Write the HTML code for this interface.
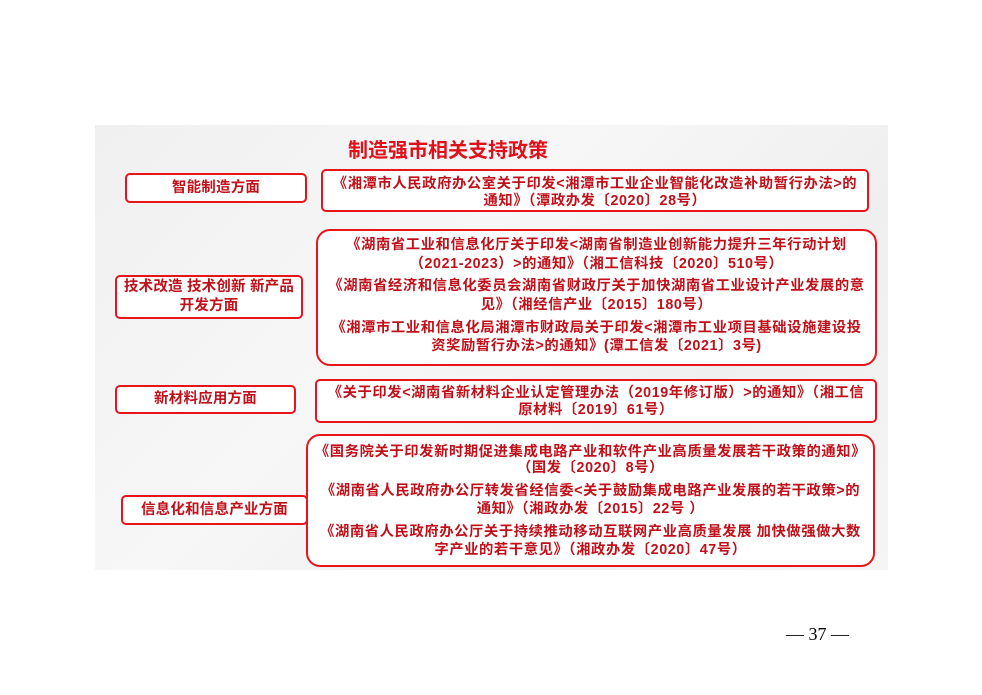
<!DOCTYPE html>
<html><head><meta charset="utf-8"><style>
body{margin:0;width:982px;height:695px;background:#fff;position:relative;overflow:hidden;font-family:"Liberation Sans","Noto Sans CJK SC",sans-serif;}
.panel{position:absolute;left:95px;top:125px;width:793px;height:445px;background:linear-gradient(135deg,#f0f0f0,#f7f7f7 40%,#efefef 70%,#f5f5f5);}
.b{position:absolute;border:2px solid #e8141c;border-radius:5px;background:#fff;box-sizing:border-box;color:#c0101a;font-weight:bold;font-size:14.3px;letter-spacing:0.6px;}
.r{border-radius:14px;}
.l{position:absolute;left:0;right:0;text-align:center;white-space:nowrap;line-height:18px;}
.lab{display:flex;align-items:center;justify-content:center;text-align:center;line-height:19px;font-size:14.5px;letter-spacing:0.2px;}
</style></head><body>
<div class="panel"></div>
<div style="position:absolute;left:300px;top:134px;width:296px;text-align:center;color:#e0101a;font-weight:bold;font-size:20px;">制造强市相关支持政策</div>

<div class="b lab" style="left:125px;top:173px;width:182px;height:30px;">智能制造方面</div>
<div class="b" style="left:321px;top:169px;width:548px;height:43px;">
<div class="l" style="top:4px">《湘潭市人民政府办公室关于印发&lt;湘潭市工业企业智能化改造补助暂行办法&gt;的</div>
<div class="l" style="top:21px">通知》（潭政办发〔2020〕28号）</div></div>

<div class="b lab" style="left:115px;top:275px;width:188px;height:44px;">技术改造 技术创新 新产品<br>开发方面</div>
<div class="b r" style="left:316px;top:229px;width:561px;height:137px;">
<div class="l" style="top:5px">《湖南省工业和信息化厅关于印发&lt;湖南省制造业创新能力提升三年行动计划</div>
<div class="l" style="top:24px">（2021-2023）&gt;的通知》（湘工信科技〔2020〕510号）</div>
<div class="l" style="top:46px">《湖南省经济和信息化委员会湖南省财政厅关于加快湖南省工业设计产业发展的意</div>
<div class="l" style="top:65px">见》（湘经信产业〔2015〕180号）</div>
<div class="l" style="top:88px">《湘潭市工业和信息化局湘潭市财政局关于印发&lt;湘潭市工业项目基础设施建设投</div>
<div class="l" style="top:106px">资奖励暂行办法&gt;的通知》(潭工信发〔2021〕3号)</div></div>

<div class="b lab" style="left:115px;top:385px;width:181px;height:29px;">新材料应用方面</div>
<div class="b" style="left:315px;top:379px;width:562px;height:44px;">
<div class="l" style="top:3px">《关于印发&lt;湖南省新材料企业认定管理办法（2019年修订版）&gt;的通知》（湘工信</div>
<div class="l" style="top:20px">原材料〔2019〕61号）</div></div>

<div class="b lab" style="left:121px;top:495px;width:187px;height:30px;">信息化和信息产业方面</div>
<div class="b r" style="left:306px;top:434px;width:569px;height:133px;">
<div class="l" style="top:7px">《国务院关于印发新时期促进集成电路产业和软件产业高质量发展若干政策的通知》</div>
<div class="l" style="top:23px">（国发〔2020〕8号）</div>
<div class="l" style="top:46px">《湖南省人民政府办公厅转发省经信委&lt;关于鼓励集成电路产业发展的若干政策&gt;的</div>
<div class="l" style="top:64px">通知》（湘政办发〔2015〕22号 ）</div>
<div class="l" style="top:87px">《湖南省人民政府办公厅关于持续推动移动互联网产业高质量发展 加快做强做大数</div>
<div class="l" style="top:105px">字产业的若干意见》（湘政办发〔2020〕47号）</div></div>

<div style="position:absolute;left:786px;top:624px;font-size:18px;color:#000;font-family:'Liberation Serif','Noto Serif CJK SC',serif;">— 37 —</div>
</body></html>
